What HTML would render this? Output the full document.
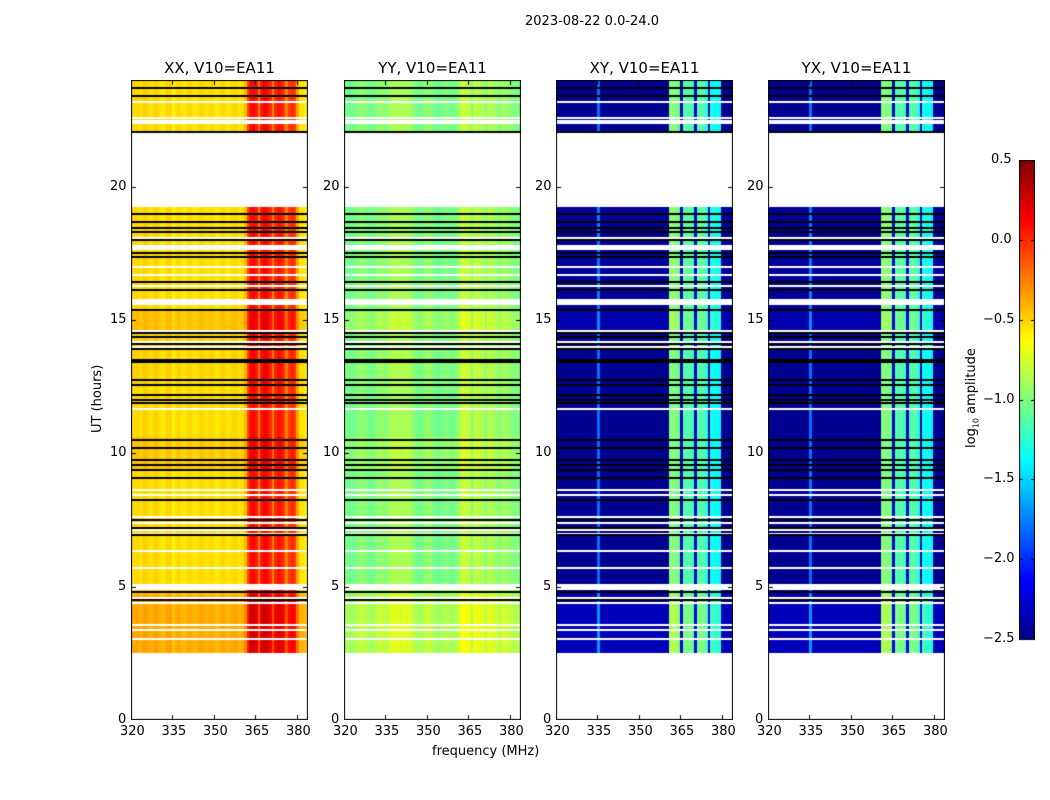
<!DOCTYPE html>
<html><head><meta charset="utf-8"><style>
body{margin:0;background:#fff;width:1050px;height:800px;position:relative;overflow:hidden;font-family:"DejaVu Sans","Liberation Sans",sans-serif;}
.t{position:absolute;font-size:13px;color:#000;white-space:nowrap}
canvas{position:absolute}
</style></head><body>
<div class="t" style="left:525px;top:14px;font-size:13px">2023-08-22 0.0-24.0</div>
<div id="root"></div>
<script>
// ---- data ----
const channels = []; for (let f = 320; f < 384; f++) channels.push(f);
const xxProfile = [-0.5,-0.52,-0.5,-0.54,-0.5,-0.48,-0.52,-0.55,-0.5,-0.49,-0.53,-0.57,-0.55,-0.5,-0.5,-0.6,-0.53,-0.5,-0.55,-0.57,-0.53,-0.5,-0.55,-0.57,-0.53,-0.5,-0.52,-0.55,-0.53,-0.5,-0.55,-0.57,-0.53,-0.5,-0.55,-0.56,-0.53,-0.5,-0.52,-0.55,-0.53,-0.42,
 -0.1,0.08,0.12,0.05,-0.25,0.05,0.15,0.1,0.0,-0.25,0.0,0.08,0.05,-0.05,-0.25,-0.05,0.0,-0.05,-0.35,-0.55,-0.55,-0.6];
const yyProfile = [-1.0,-1.03,-1.05,-1.05,-1.02,-0.98,-0.95,-0.97,-1.0,-1.03,-1.05,-1.0,-0.95,-0.93,-0.95,-1.0,-0.9,-0.87,-0.85,-0.87,-0.9,-0.87,-0.85,-0.88,-0.92,-0.97,-1.03,-1.05,-1.02,-0.95,-0.93,-0.97,-1.01,-1.05,-1.07,-1.03,-1.0,-1.0,-1.03,-1.05,-1.01,-0.95,
 -0.8,-0.77,-0.8,-0.83,-1.0,-0.8,-0.83,-0.85,-0.87,-1.0,-0.85,-0.87,-0.9,-0.9,-1.0,-0.9,-0.92,-0.93,-0.97,-1.0,-1.0,-1.0];
const xyProfile = [-2.4,-2.45,-2.45,-2.45,-2.45,-2.45,-2.45,-2.45,-2.45,-2.45,-2.45,-2.45,-2.45,-2.45,-2.45,-1.8,-2.45,-2.45,-2.45,-2.45,-2.45,-2.45,-2.45,-2.45,-2.45,-2.45,-2.45,-2.45,-2.45,-2.45,-2.45,-2.45,-2.45,-2.45,-2.45,-2.45,-2.45,-2.45,-2.45,-2.45,-2.45,
 -1.0,-0.95,-1.0,-1.05,-2.3,-1.1,-1.15,-1.1,-1.2,-2.3,-1.15,-1.1,-1.15,-1.25,-2.3,-1.3,-1.35,-1.35,-1.4,-2.45,-2.45,-2.45,-2.45];
const yxProfile = xyProfile.slice();
// time blocks
const blockStart = [2.5,4.7,5.0,9.4,10.6,12.5,14.6,15.3,19.2];
const blockEnd   = [4.7,5.0,9.4,10.6,12.5,14.6,15.3,19.2,19.25];
const parOffset  = [0.15,0.08,0.0,0.06,0.0,0.02,0.08,0.0,0.0];
const crossOffset= [0.12,0.05,0.0,0.0,0.0,0.0,0.08,0.03,0.0];
const topStart = 22.05, topEnd = 24.0;
const blackLines = [23.7,23.4,22.05,18.97,18.67,18.45,18.3,18.0,17.51,17.36,16.42,16.12,15.37,14.51,14.36,14.1,13.91,13.5,13.43,12.75,12.56,12.19,12.0,11.89,10.5,10.2,9.75,9.56,9.38,9.08,8.25,7.5,7.2,6.94,4.8,4.5];
const whiteLines = [23.18,22.58,22.46,22.39,18.08,16.99,16.27,14.59,14.18,13.99,11.66,8.63,8.44,7.61,7.39,7.13,6.98,6.34,5.7,4.58,4.39,3.56,3.38,3.04];
const whiteBands = [[17.62,17.81],[16.65,16.72],[15.56,15.79],[4.87,5.1]];
const xTicks = [320,335,350,365,380];
const yTicks = [0,5,10,15,20];
const cbTicks = [0.5,0.0,-0.5,-1.0,-1.5,-2.0,-2.5];
const titles = ['XX, V10=EA11','YY, V10=EA11','XY, V10=EA11','YX, V10=EA11'];
const profiles = [xxProfile,yyProfile,xyProfile,yxProfile];
const cross = [false,false,true,true];
// ---- layout ----
const lefts=[131,344,556,768], W=177, TOP=80, H=640;
const fx = f => (f-320)/64*W;
const hy = h => H - h/24*H;
function jet(v){ let t=(v+2.5)/3; t=Math.max(0,Math.min(1,t));
  const c=x=>Math.round(255*Math.max(0,Math.min(1,1.5-Math.abs(4*t-x))));
  return `rgb(${c(3)},${c(2)},${c(1)})`; }
const root=document.getElementById('root');
function txt(s,x,y,name,extra){const d=document.createElement('div');d.className='t';d.textContent=s;
  d.style.left=x+'px';d.style.top=y+'px';if(extra)d.style.cssText+=extra;
  
  
  root.appendChild(d);return d;}
profiles.forEach((prof,p)=>{
  const L=lefts[p];
  const cv=document.createElement('canvas');cv.width=W;cv.height=H;
  cv.style.left=L+'px';cv.style.top=TOP+'px';
  
  
  root.appendChild(cv);
  const g=cv.getContext('2d');
  const offs = cross[p]?crossOffset:parOffset;
  const segs = blockStart.map((s,i)=>[s,blockEnd[i],offs[i]]);
  segs.push([topStart,topEnd,0]);
  segs.forEach(([s,e,o])=>{
    channels.forEach((f,i)=>{
      g.fillStyle=jet(prof[i]+o);
      const x0=Math.floor(fx(f)),x1=Math.floor(fx(f+1)),y0=Math.round(hy(e)),y1=Math.round(hy(s));
      g.fillRect(x0,y0,Math.max(1,x1-x0),y1-y0);
    });
  });
  g.fillStyle='#fff';
  whiteLines.forEach(h=>g.fillRect(0,Math.round(hy(h))-1,W,2));
  whiteBands.forEach(([a,b])=>g.fillRect(0,Math.round(hy(b)),W,Math.round(hy(a)-hy(b))));
  g.fillStyle='#000';
  blackLines.forEach(h=>g.fillRect(0,Math.round(hy(h))-1,W,2));
  g.strokeStyle='#000';g.lineWidth=1;g.strokeRect(0.5,0.5,W-1,H-1);
  xTicks.forEach(t=>{const x=Math.round(fx(t))+0.5;g.beginPath();g.moveTo(x,H);g.lineTo(x,H-5);g.moveTo(x,0);g.lineTo(x,5);g.stroke();
    txt(String(t),L+fx(t)-11,TOP+H+4,'x-tick-label');});
  yTicks.forEach(t=>{const y=Math.round(hy(t))+0.5;g.beginPath();g.moveTo(0,y);g.lineTo(5,y);g.moveTo(W,y);g.lineTo(W-5,y);g.stroke();
    const d=txt(String(t),0,TOP+hy(t)-8,'y-tick-label');d.style.left=(L-5-(t>=10?16:8))+'px';});
  txt(titles[p],L+W/2-56,TOP-21,'panel-title','font-size:15px;width:112px;text-align:center');
});
txt('frequency (MHz)',432,744,'x-axis-title');
txt('UT (hours)',90,400,'y-axis-title','transform:rotate(-90deg);transform-origin:0 0;left:90px;top:433px');
const cb=document.createElement('canvas');cb.width=16;cb.height=481;cb.style.left='1019px';cb.style.top='160px';


root.appendChild(cb);
const cg=cb.getContext('2d');
for(let i=0;i<480;i++){cg.fillStyle=jet(0.5-3*i/480);cg.fillRect(0,i,16,1);}
cg.strokeStyle='#000';cg.strokeRect(0.5,0.5,15,479);
cbTicks.forEach(v=>{const y=Math.round((0.5-v)/3*479)+0.5;cg.beginPath();cg.moveTo(0,y);cg.lineTo(4,y);cg.moveTo(16,y);cg.lineTo(12,y);cg.stroke();
  const s=(v<0?'\u2212':'')+Math.abs(v).toFixed(1);
  const d=txt(s,0,160+(0.5-v)/3*479-8,'colorbar-tick-label');d.style.left=(1013-(v<0?30:22))+'px';});
const lab=txt('',0,0,'colorbar-label','transform:rotate(-90deg);transform-origin:0 0;left:964px;top:448px');
lab.innerHTML='log<sub style="font-size:8px">10</sub> amplitude';
</script>
</body></html>
